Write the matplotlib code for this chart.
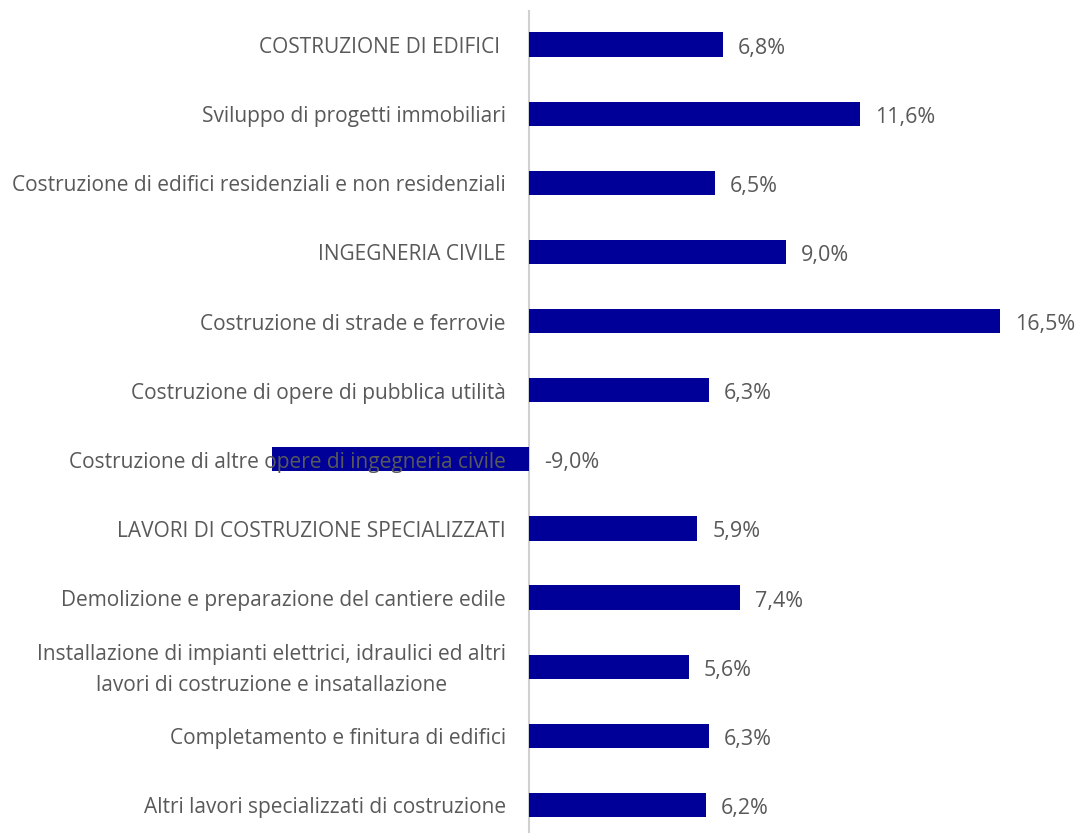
import matplotlib.pyplot as plt

categories = [
    "COSTRUZIONE DI EDIFICI ",
    "Sviluppo di progetti immobiliari",
    "Costruzione di edifici residenziali e non residenziali",
    "INGEGNERIA CIVILE",
    "Costruzione di strade e ferrovie",
    "Costruzione di opere di pubblica utilità",
    "Costruzione di altre opere di ingegneria civile",
    "LAVORI DI COSTRUZIONE SPECIALIZZATI",
    "Demolizione e preparazione del cantiere edile",
    "Installazione di impianti elettrici, idraulici ed altri\nlavori di costruzione e insatallazione",
    "Completamento e finitura di edifici",
    "Altri lavori specializzati di costruzione",
]
values = [6.8, 11.6, 6.5, 9.0, 16.5, 6.3, -9.0, 5.9, 7.4, 5.6, 6.3, 6.2]
value_labels = ["6,8%", "11,6%", "6,5%", "9,0%", "16,5%", "6,3%", "-9,0%",
                "5,9%", "7,4%", "5,6%", "6,3%", "6,2%"]

BAR = "#000099"
TXT = "#595959"

plt.rcParams["font.family"] = ["Open Sans", "DejaVu Sans"]

W, H = 1078, 833
fig = plt.figure(figsize=(W / 100, H / 100), dpi=100)
# axes spans x=-9 .. 16.5 in data, placed in pixel space
ax = fig.add_axes([272 / W, (H - 839.5) / H, 728 / W, 829.5 / H])

pos = list(range(len(categories)))
ax.barh(pos, values, height=0.35, color=BAR, zorder=1)
ax.set_xlim(-9, 16.5)
ax.set_ylim(len(categories) - 0.5, -0.5)

ax.axvline(0, color="#d0d0d0", lw=1.5, zorder=0.5)

ax.set_xticks([])
ax.set_yticks([])
for s in ax.spines.values():
    s.set_visible(False)

# category labels, right-aligned just left of the zero line
for p, cat in zip(pos, categories):
    ax.annotate(cat, xy=(0, p), xytext=(-23 * 0.72, -2.2),
                textcoords="offset points", ha="right", va="center",
                multialignment="center", linespacing=1.65,
                fontsize=15, color=TXT, annotation_clip=False, zorder=3)

for p, v, lab in zip(pos, values, value_labels):
    ax.annotate(lab, xy=(max(v, 0), p), xytext=(15 * 0.72, -2.5),
                textcoords="offset points", ha="left", va="center",
                fontsize=15.5, color=TXT, annotation_clip=False)

fig.savefig("out.png", dpi=100)
